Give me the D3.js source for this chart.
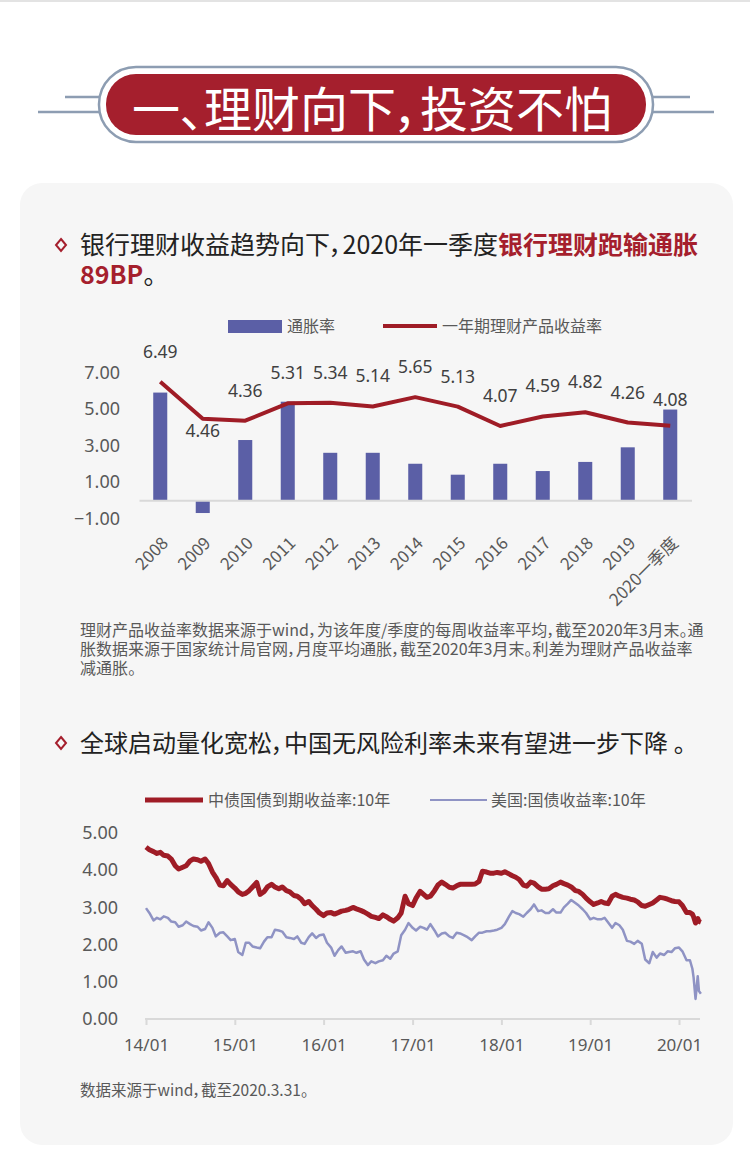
<!DOCTYPE html>
<html><head><meta charset="utf-8">
<script src="https://cdn.jsdelivr.net/npm/d3@7"></script>
<style>
html,body{margin:0;padding:0;background:#fff;}
svg{display:block;font-family:"Noto Sans CJK SC","Noto Sans",sans-serif;font-feature-settings:"palt";}
</style></head><body>
<svg id="c" width="750" height="1172"></svg>
<script>
// ---------- data ----------
const categories = ["2008","2009","2010","2011","2012","2013","2014","2015","2016","2017","2018","2019","2020一季度"];
const inflation = [5.9,-0.7,3.3,5.4,2.6,2.6,2.0,1.4,2.0,1.6,2.1,2.9,4.97];
const wmpYield = [6.49,4.46,4.36,5.31,5.34,5.14,5.65,5.13,4.07,4.59,4.82,4.26,4.08];
const yTicks1 = [-1,1,3,5,7];
const legend1 = ["通胀率","一年期理财产品收益率"];

const halfMonthDates = [];
for (let y = 2014; y <= 2020; y++) for (let m = 1; m <= 12; m++) {
  if (y === 2020 && m > 2) break;
  const mm = String(m).padStart(2,"0");
  halfMonthDates.push(`${y}-${mm}-01`, `${y}-${mm}-15`);
}
const extraDates = ["2020-02-25","2020-03-01","2020-03-09","2020-03-18","2020-03-23","2020-03-31"];
const bondDates = halfMonthDates.concat(extraDates);
const cnBond10y = [
 4.62,4.55,4.50,4.45,4.48,4.40,4.38,4.30,4.12,4.03,4.08,4.12,4.25,4.30,4.28,4.24,4.30,4.18,3.95,3.81,3.60,3.58,3.72,3.62,
 3.52,3.42,3.35,3.38,3.45,3.55,3.67,3.35,3.42,3.55,3.62,3.55,3.50,3.55,3.45,3.42,3.32,3.30,3.22,3.10,3.16,3.05,2.95,2.85,
 2.78,2.85,2.86,2.82,2.86,2.90,2.92,2.95,3.00,2.96,2.92,2.88,2.82,2.76,2.73,2.70,2.80,2.75,2.68,2.63,2.72,2.85,3.30,3.10,
 3.05,3.25,3.43,3.35,3.27,3.30,3.45,3.60,3.68,3.62,3.54,3.52,3.58,3.62,3.62,3.62,3.62,3.63,3.70,3.97,3.95,3.92,3.92,3.94,
 3.92,3.96,3.90,3.85,3.81,3.75,3.60,3.57,3.68,3.65,3.55,3.49,3.49,3.50,3.58,3.62,3.68,3.64,3.60,3.55,3.45,3.43,3.35,3.25,
 3.15,3.08,3.12,3.16,3.12,3.10,3.30,3.35,3.30,3.27,3.25,3.22,3.20,3.15,3.05,3.03,3.08,3.12,3.20,3.27,3.25,3.22,3.18,3.16,
 3.15,3.05,2.86,2.86,
 2.82,2.75,2.58,2.70,2.62,2.60];
const usBond10y = [
 2.98,2.85,2.65,2.72,2.68,2.76,2.72,2.62,2.60,2.48,2.52,2.62,2.55,2.50,2.48,2.38,2.42,2.60,2.45,2.22,2.32,2.33,2.22,2.12,
 2.15,1.80,1.72,2.05,2.05,1.95,1.92,1.90,2.08,2.20,2.20,2.40,2.38,2.35,2.20,2.18,2.15,2.22,2.05,2.02,2.20,2.30,2.18,2.25,
 2.27,2.05,1.92,1.70,1.85,1.95,1.78,1.80,1.82,1.78,1.82,1.60,1.45,1.55,1.50,1.55,1.58,1.70,1.62,1.76,1.82,2.25,2.40,2.58,
 2.45,2.38,2.48,2.45,2.40,2.55,2.38,2.22,2.30,2.32,2.22,2.18,2.32,2.30,2.25,2.20,2.12,2.22,2.32,2.32,2.36,2.36,2.38,2.40,
 2.45,2.55,2.75,2.90,2.85,2.82,2.75,2.85,2.95,3.08,2.90,2.92,2.85,2.85,2.95,2.86,2.86,3.00,3.10,3.20,3.12,3.05,2.95,2.85,
 2.68,2.72,2.68,2.68,2.72,2.60,2.45,2.58,2.52,2.40,2.10,2.08,2.02,2.10,2.02,1.60,1.50,1.80,1.65,1.76,1.72,1.82,1.80,1.90,
 1.92,1.82,1.58,1.58,
 1.35,1.12,0.54,1.15,0.75,0.68];
const yTicks2 = [0,1,2,3,4,5];
const legend2 = ["中债国债到期收益率:10年","美国:国债收益率:10年"];

// ---------- colours ----------
const RED = "#9f1c26", BAR = "#5b5fa6", USC = "#8f93c4", GREY = "#595959", AXIS = "#d9d9d9";

const svg = d3.select("#c");
const parse = d3.timeParse("%Y-%m-%d");

// top rule
svg.append("rect").attr("x",0).attr("y",0).attr("width",750).attr("height",2).attr("fill","#e3e3e3");

// ---------- banner ----------
const b = svg.append("g");
[[65,97,100],[652,97,690],[38,112,100],[652,112,714]].forEach(([x1,y,x2]) =>
  b.append("line").attr("x1",x1).attr("x2",x2).attr("y1",y).attr("y2",y).attr("stroke","#8d9db2").attr("stroke-width",2.5));
b.append("rect").attr("x",99).attr("y",67).attr("width",554).attr("height",75).attr("rx",37).attr("fill","#fff")
 .attr("stroke","#8d9db2").attr("stroke-width",2.5);
b.append("rect").attr("x",106).attr("y",74).attr("width",540).attr("height",61).attr("rx",30).attr("fill","#a51f2d");
b.append("text").attr("x",372).attr("y",106).attr("text-anchor","middle").attr("dominant-baseline","central")
 .attr("fill","#fff").attr("font-size",48).attr("font-weight",400).text("一、理财向下，投资不怕");

// ---------- card ----------
svg.append("rect").attr("x",20).attr("y",183).attr("width",713).attr("height",962).attr("rx",22).attr("fill","#f6f6f6");

function diamond(cx, cy) {
  svg.append("path").attr("d",`M${cx},${cy-6}L${cx+5},${cy}L${cx},${cy+6}L${cx-5},${cy}Z`)
    .attr("fill","none").attr("stroke","#a51f2d").attr("stroke-width",2);
}

// ---------- title 1 ----------
diamond(61,245);
const t1 = svg.append("text").attr("x",80).attr("y",254).attr("font-size",25).attr("fill","#222");
t1.append("tspan").text("银行理财收益趋势向下，2020年一季度");
t1.append("tspan").attr("fill","#a51f2d").attr("font-weight",700).text("银行理财跑输通胀");
const t1b = svg.append("text").attr("x",80).attr("y",284).attr("font-size",25).attr("fill","#222");
t1b.append("tspan").attr("fill","#a51f2d").attr("font-weight",700).text("89BP");
t1b.append("tspan").text("。");

// ---------- chart 1 ----------
const x1 = d3.scaleBand().domain(categories).range([139,691.5]).paddingInner(0.67).paddingOuter(0.335);
const y1 = d3.scaleLinear().domain([-1,7]).range([518.5,372.5]);

// legend 1
svg.append("rect").attr("x",228).attr("y",320).attr("width",54).attr("height",13).attr("fill",BAR);
svg.append("text").attr("x",287).attr("y",332).attr("font-size",16).attr("fill",GREY).text(legend1[0]);
svg.append("line").attr("x1",383).attr("x2",437).attr("y1",326).attr("y2",326).attr("stroke",RED).attr("stroke-width",4);
svg.append("text").attr("x",442).attr("y",332).attr("font-size",16).attr("fill",GREY).text(legend1[1]);

// y axis labels
const ya1 = svg.append("g").attr("transform","translate(120,0)")
  .call(d3.axisLeft(y1).tickValues(yTicks1).tickFormat(d3.format(".2f")).tickSize(0).tickPadding(0));
ya1.select(".domain").remove();
ya1.selectAll("text").attr("font-size",18).attr("fill",GREY).attr("font-family","Noto Sans, sans-serif");

// bars
svg.append("g").selectAll("rect").data(inflation).join("rect")
  .attr("x",(d,i)=>x1(categories[i])).attr("width",x1.bandwidth())
  .attr("y",d=>y1(Math.max(0,d))).attr("height",d=>Math.abs(y1(d)-y1(0)))
  .attr("fill",BAR);

// zero axis + category labels
const xa1 = svg.append("g").attr("transform",`translate(0,${y1(0)})`)
  .call(d3.axisBottom(x1).tickSize(0).tickPadding(0));
xa1.select(".domain").attr("stroke",AXIS).attr("stroke-width",2);
xa1.selectAll("text").attr("font-size",17).attr("fill",GREY).attr("font-family","Noto Sans CJK SC, sans-serif")
  .attr("text-anchor","end").attr("dy",0)
  .attr("transform","translate(9,44) rotate(-45)");

// line
const line1 = d3.line().x((d,i)=>x1(categories[i])+x1.bandwidth()/2).y(d=>y1(d));
svg.append("path").datum(wmpYield).attr("d",line1).attr("fill","none").attr("stroke",RED).attr("stroke-width",4).attr("stroke-linejoin","round");

// labels
svg.append("g").selectAll("text").data(wmpYield).join("text")
  .attr("x",(d,i)=>x1(categories[i])+x1.bandwidth()/2)
  .attr("y",(d,i)=> i===1 ? y1(d)+11 : (i===categories.length-1 ? y1(d)-27 : y1(d)-31))
  .attr("dominant-baseline","central").attr("text-anchor","middle")
  .attr("font-size",17.5).attr("fill","#404040").attr("font-family","Noto Sans, sans-serif")
  .text(d=>d3.format(".2f")(d));

// footnote 1
["理财产品收益率数据来源于wind，为该年度/季度的每周收益率平均，截至2020年3月末。通",
 "胀数据来源于国家统计局官网，月度平均通胀，截至2020年3月末。利差为理财产品收益率",
 "减通胀。"].forEach((s,i)=>
  svg.append("text").attr("x",80).attr("y",636+i*19).attr("font-size",16).attr("fill",GREY).text(s));

// ---------- title 2 ----------
diamond(61,743);
svg.append("text").attr("x",80).attr("y",752).attr("font-size",24).attr("fill","#222")
  .text("全球启动量化宽松，中国无风险利率未来有望进一步下降 。");

// legend 2
svg.append("line").attr("x1",145).attr("x2",203).attr("y1",800).attr("y2",800).attr("stroke",RED).attr("stroke-width",5);
svg.append("text").attr("x",208).attr("y",806).attr("font-size",16).attr("fill",GREY).text(legend2[0]);
svg.append("line").attr("x1",430).attr("x2",487).attr("y1",800).attr("y2",800).attr("stroke",USC).attr("stroke-width",2);
svg.append("text").attr("x",491).attr("y",806).attr("font-size",16).attr("fill",GREY).text(legend2[1]);

// ---------- chart 2 ----------
const x2 = d3.scaleTime().domain([parse("2014-01-01"),parse("2020-01-01")]).range([146,679]);
const y2 = d3.scaleLinear().domain([0,5]).range([1019,833]);

const ya2 = svg.append("g").attr("transform","translate(118,0)")
  .call(d3.axisLeft(y2).tickValues(yTicks2).tickFormat(d3.format(".2f")).tickSize(0).tickPadding(0));
ya2.select(".domain").remove();
ya2.selectAll("text").attr("font-size",18).attr("fill",GREY).attr("font-family","Noto Sans, sans-serif");

const xa2 = svg.append("g").attr("transform","translate(0,1019)")
  .call(d3.axisBottom(x2).ticks(d3.timeYear.every(1)).tickFormat(d3.timeFormat("%y/%m")).tickSize(6).tickPadding(14).tickSizeOuter(0));
xa2.select(".domain").attr("stroke",AXIS).attr("stroke-width",2).attr("d","M145,0H700");
xa2.selectAll(".tick line").attr("stroke",AXIS).attr("stroke-width",2);
xa2.selectAll("text").attr("font-size",17).attr("fill",GREY).attr("font-family","Noto Sans, sans-serif");

const line2 = d3.line().x((d,i)=>x2(parse(bondDates[i]))).y(d=>y2(d));
svg.append("path").datum(usBond10y).attr("d",line2).attr("fill","none").attr("stroke",USC).attr("stroke-width",2.5).attr("stroke-linejoin","round");
svg.append("path").datum(cnBond10y).attr("d",line2).attr("fill","none").attr("stroke",RED).attr("stroke-width",5).attr("stroke-linejoin","round");

// footnote 2
svg.append("text").attr("x",80).attr("y",1096).attr("font-size",15.5).attr("fill",GREY).text("数据来源于wind，截至2020.3.31。");
</script>
</body></html>
